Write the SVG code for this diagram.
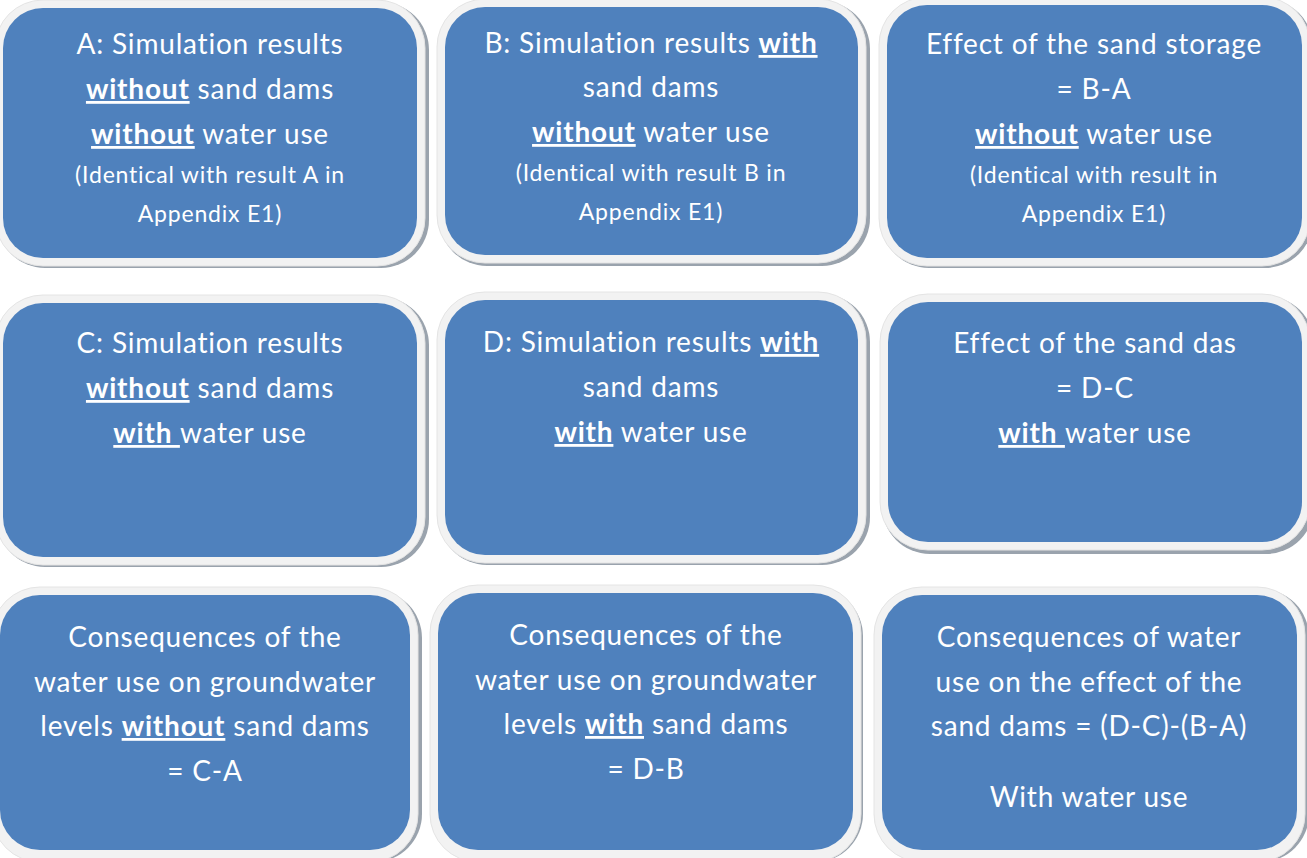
<svg xmlns="http://www.w3.org/2000/svg" width="1307" height="858" viewBox="0 0 1307 858">
<style>
.sh{fill:#9aa3ad}
.fr{fill:#f2f2f2;stroke:#e4e4e4;stroke-width:1}
.bx{fill:#4f81bd}
text{font-family:Lato,"Open Sans","Liberation Sans",sans-serif;fill:#ffffff;text-anchor:middle;font-size:28px;letter-spacing:0.8px}
.s{font-size:23px;letter-spacing:0.8px}
.b{font-weight:bold;text-decoration:underline}
</style>
<rect width="1307" height="858" fill="#ffffff"/>
<g id="connectors"></g>
<g id="nodeA">
<rect class="sh" x="-3" y="2" width="432" height="266" rx="48"/>
<rect class="fr" x="-5" y="0" width="430" height="266" rx="48"/>
<rect class="bx" x="3" y="8" width="414" height="250" rx="40"/>
<text x="210" y="54">A: Simulation results</text>
<text x="210" y="99"><tspan class="b">without</tspan> sand dams</text>
<text x="210" y="144"><tspan class="b">without</tspan> water use</text>
<text class="s" x="210" y="183">(Identical with result A in</text>
<text class="s" x="210" y="222">Appendix E1)</text>
</g>
<g id="nodeB">
<rect class="sh" x="439" y="1" width="431" height="265" rx="48"/>
<rect class="fr" x="437" y="-1" width="429" height="264" rx="48"/>
<rect class="bx" x="445" y="7" width="413" height="248" rx="40"/>
<text x="651" y="53">B: Simulation results <tspan class="b">with</tspan></text>
<text x="651" y="97">sand dams</text>
<text x="651" y="142"><tspan class="b">without</tspan> water use</text>
<text class="s" x="651" y="181">(Identical with result B in</text>
<text class="s" x="651" y="220">Appendix E1)</text>
</g>
<g id="nodeE">
<rect class="sh" x="881" y="-1" width="432" height="269" rx="48"/>
<rect class="fr" x="879" y="-3" width="431" height="269" rx="48"/>
<rect class="bx" x="887" y="5" width="415" height="253" rx="40"/>
<text x="1094" y="54">Effect of the sand storage</text>
<text x="1094" y="99">= B-A</text>
<text x="1094" y="144"><tspan class="b">without</tspan> water use</text>
<text class="s" x="1094" y="183">(Identical with result in</text>
<text class="s" x="1094" y="222">Appendix E1)</text>
</g>
<g id="nodeC">
<rect class="sh" x="-3" y="297" width="432" height="270" rx="48"/>
<rect class="fr" x="-5" y="295" width="430" height="270" rx="48"/>
<rect class="bx" x="3" y="303" width="414" height="254" rx="40"/>
<text x="210" y="353">C: Simulation results</text>
<text x="210" y="398"><tspan class="b">without</tspan> sand dams</text>
<text x="210" y="443"><tspan class="b">with </tspan>water use</text>
</g>
<g id="nodeD">
<rect class="sh" x="439" y="294" width="431" height="271" rx="48"/>
<rect class="fr" x="437" y="292" width="429" height="271" rx="48"/>
<rect class="bx" x="445" y="300" width="413" height="255" rx="40"/>
<text x="651" y="352">D: Simulation results <tspan class="b">with</tspan></text>
<text x="651" y="397">sand dams</text>
<text x="651" y="442"><tspan class="b">with</tspan> water use</text>
</g>
<g id="nodeF">
<rect class="sh" x="882" y="296" width="432" height="258" rx="48"/>
<rect class="fr" x="880" y="294" width="430" height="256" rx="48"/>
<rect class="bx" x="888" y="302" width="414" height="240" rx="40"/>
<text x="1095" y="353">Effect of the sand das</text>
<text x="1095" y="398">= D-C</text>
<text x="1095" y="443"><tspan class="b">with </tspan>water use</text>
</g>
<g id="nodeG">
<rect class="sh" x="-6" y="590" width="428" height="272" rx="48"/>
<rect class="fr" x="-8" y="587" width="426" height="275" rx="48"/>
<rect class="bx" x="0" y="595" width="410" height="255" rx="40"/>
<text x="205" y="647">Consequences of the</text>
<text x="205" y="692">water use on groundwater</text>
<text x="205" y="736">levels <tspan class="b">without</tspan> sand dams</text>
<text x="205" y="781">= C-A</text>
</g>
<g id="nodeH">
<rect class="sh" x="432" y="588" width="431" height="274" rx="48"/>
<rect class="fr" x="430" y="585" width="431" height="277" rx="48"/>
<rect class="bx" x="438" y="593" width="415" height="257" rx="40"/>
<text x="646" y="645">Consequences of the</text>
<text x="646" y="690">water use on groundwater</text>
<text x="646" y="734">levels <tspan class="b">with</tspan> sand dams</text>
<text x="646" y="779">= D-B</text>
</g>
<g id="nodeI">
<rect class="sh" x="876" y="589" width="433" height="273" rx="48"/>
<rect class="fr" x="874" y="587" width="431" height="275" rx="48"/>
<rect class="bx" x="882" y="595" width="415" height="255" rx="40"/>
<text x="1089" y="647">Consequences of water</text>
<text x="1089" y="692">use on the effect of the</text>
<text x="1089" y="736">sand dams = (D-C)-(B-A)</text>
<text x="1089" y="807">With water use</text>
</g>
</svg>
